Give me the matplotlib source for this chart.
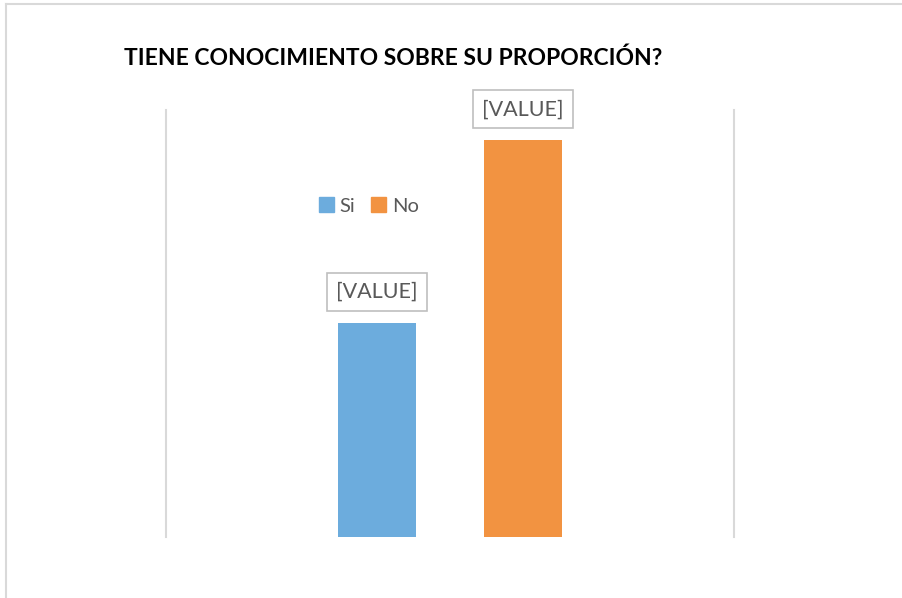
import matplotlib
matplotlib.use("Agg")
import matplotlib.pyplot as plt
from matplotlib.lines import Line2D
from matplotlib.patches import Patch

series = ["Si", "No"]
values = [35, 65]
labels = ["[VALUE]", "[VALUE]"]
colors = ["#6cacdd", "#f29341"]

W, H = 902, 598
fig = plt.figure(figsize=(W / 100, H / 100), dpi=100)
plt.rcParams['font.family'] = ['Lato', 'DejaVu Sans']

# figure border (left & top)
fig.add_artist(Line2D([6 / W, 6 / W], [0, 1 - 4 / H], color="#d9d9d9", lw=1.5, transform=fig.transFigure))
fig.add_artist(Line2D([6 / W, 1], [1 - 4 / H, 1 - 4 / H], color="#d9d9d9", lw=1.5, transform=fig.transFigure))

ax = fig.add_axes([166 / W, 1 - 536.5 / H, (734 - 166) / W, (536.5 - 110) / H])
ax.set_xlim(-0.5, 0.5)
ax.set_ylim(0, 70)

width = 78 / 568
offsets = [-73 / 568, 73 / 568]
for s, v, lab, c, o in zip(series, values, labels, colors, offsets):
    ax.bar(o, v, width=width, color=c, label=s)
    ax.annotate(lab, (o, v), xytext=(0, 22.5), textcoords="offset points",
                ha="center", va="center", fontsize=15.5, color="#595959",
                bbox=dict(boxstyle="square,pad=0.42", fc="white", ec="#bfbfbf", lw=1.2))

for side in ["top", "bottom"]:
    ax.spines[side].set_visible(False)
for side in ["left", "right"]:
    ax.spines[side].set_color("#d9d9d9")
    ax.spines[side].set_linewidth(1.5)
ax.set_xticks([])
ax.set_yticks([])

handles = [Patch(color=c) for c in colors]
fig.legend(handles, series, loc="center", bbox_to_anchor=(369 / W, 1 - 206 / H),
           ncol=2, frameon=False, fontsize=14.5, handlelength=0.7, handleheight=0.7,
           handletextpad=0.3, columnspacing=0.8, labelcolor="#595959")

fig.text(393 / W, 1 - 58.5 / H, "TIENE CONOCIMIENTO SOBRE SU PROPORCIÓN?",
         ha="center", va="center", fontsize=16.5, fontweight="bold", color="black")

fig.savefig("out.png", dpi=100, facecolor="white")
